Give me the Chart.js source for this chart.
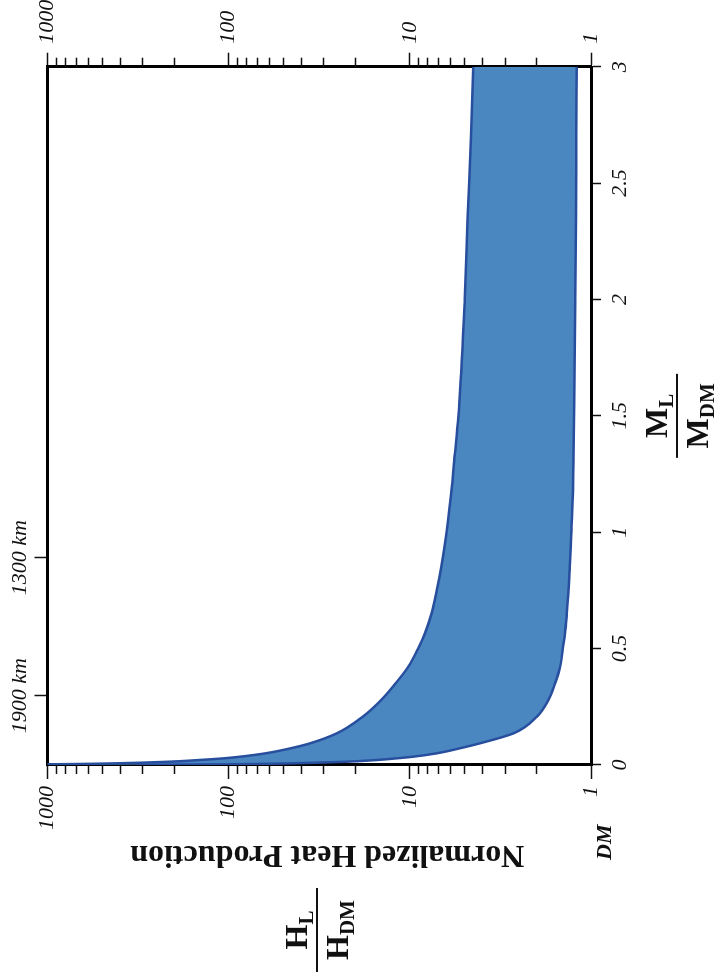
<!DOCTYPE html>
<html><head><meta charset="utf-8">
<script src="https://cdn.jsdelivr.net/npm/chart.js@4.4.1/dist/chart.umd.min.js"></script>
<style>
html,body{margin:0;padding:0;background:#fff;overflow:hidden;width:725px;height:980px;}
#wrap{position:absolute;left:0;top:0;width:980px;height:725px;transform-origin:0 0;transform:translate(0px,980px) rotate(-90deg);}
</style></head><body>
<div id="wrap"><canvas id="c" width="980" height="725"></canvas></div>
<script>
// ---- data ----
const massRatio = [0.001, 0.003, 0.007, 0.0142, 0.0215, 0.0288, 0.0357, 0.0503, 0.0717, 0.0932, 0.136, 0.2075, 0.279, 0.35, 0.422, 0.5, 0.566, 0.65, 0.75, 0.85, 0.967, 1.15, 1.31, 1.568, 2.0, 2.341, 2.7, 3.0];
const upperHeat = [3000, 1000, 430, 213, 145, 106, 86.5, 62.5, 45.5, 35.5, 25.3, 18.2, 14.4, 12.0, 10.2, 9.0, 8.25, 7.6, 7.1, 6.7, 6.35, 5.95, 5.68, 5.32, 4.98, 4.8, 4.6, 4.46];
const lowerHeat = [320, 107, 46, 22.3, 15.2, 11.8, 9.6, 7.1, 5.3, 4.1, 2.68, 1.99, 1.72, 1.58, 1.48, 1.43, 1.39, 1.36, 1.33, 1.31, 1.29, 1.26, 1.25, 1.236, 1.22, 1.21, 1.205, 1.199];
const massTicks = [0, 0.5, 1, 1.5, 2, 2.5, 3];
const heatMajorTicks = [1, 10, 100, 1000];
const heatMinorTicks = [2,3,4,5,6,7,8,9,20,30,40,50,60,70,80,90,200,300,400,500,600,700,800,900];
const kmTickValues = [0.298, 0.891];
const kmTickLabels = ['1900 km', '1300 km'];

const SERIF = "'Liberation Serif', 'DejaVu Serif', serif";
const FILL = 'rgb(74,135,192)';
const EDGE = 'rgb(40,78,158)';

const upperPts = massRatio.map((m, i) => ({x: m, y: upperHeat[i]}));
const lowerPts = massRatio.map((m, i) => ({x: m, y: lowerHeat[i]}));

const tickFont = {family: SERIF, style: 'italic', size: 22};

function drawFrac(ctx, cx, lineV, main1, sub1, main2, sub2) {
  const mainF = 'bold 32px ' + SERIF, subF = 'bold 21px ' + SERIF;
  function part(main, sub, base) {
    ctx.font = mainF; const w1 = ctx.measureText(main).width;
    ctx.font = subF; const w2 = ctx.measureText(sub).width;
    const x0 = cx - (w1 + w2) / 2;
    ctx.textAlign = 'left'; ctx.textBaseline = 'alphabetic';
    ctx.font = mainF; ctx.fillText(main, x0, base);
    ctx.font = subF; ctx.fillText(sub, x0 + w1, base + 6);
  }
  part(main1, sub1, lineV - 10);
  part(main2, sub2, lineV + 31);
  ctx.beginPath(); ctx.lineWidth = 2; ctx.strokeStyle = '#111';
  ctx.moveTo(cx - 42, lineV); ctx.lineTo(cx + 42, lineV); ctx.stroke();
}

const extras = {
  id: 'extras',
  afterDraw(chart) {
    const ctx = chart.ctx, a = chart.chartArea;
    const yL = chart.scales.y, yR = chart.scales.y2;
    ctx.save();
    ctx.strokeStyle = '#111'; ctx.lineWidth = 1.5;
    heatMinorTicks.forEach(v => {
      const p = Math.round(yL.getPixelForValue(v)) + 0.5;
      ctx.beginPath(); ctx.moveTo(a.left, p); ctx.lineTo(a.left - 9, p); ctx.stroke();
      const q = Math.round(yR.getPixelForValue(v)) + 0.5;
      ctx.beginPath(); ctx.moveTo(a.right, q); ctx.lineTo(a.right + 9, q); ctx.stroke();
    });
    ctx.fillStyle = '#111';
    // y axis title
    ctx.save();
    ctx.translate(126, (a.top + a.bottom) / 2 + 8);
    ctx.rotate(-Math.PI / 2);
    ctx.font = 'bold 32px ' + SERIF; ctx.textAlign = 'center'; ctx.textBaseline = 'middle';
    ctx.fillText('Normalized Heat Production', 0, 0);
    ctx.restore();
    // DM label
    ctx.font = 'bold italic 22px ' + SERIF; ctx.textAlign = 'left'; ctx.textBaseline = 'alphabetic';
    ctx.fillText('DM', 120, a.bottom + 20);
    // fractions
    drawFrac(ctx, 50, 317, 'H', 'L', 'H', 'DM');
    drawFrac(ctx, (a.left + a.right) / 2, 677, 'M', 'L', 'M', 'DM');
    ctx.restore();
  }
};

const axisBorder = {display: true, color: '#000', width: 3};

new Chart(document.getElementById('c'), {
  type: 'line',
  data: {
    datasets: [
      {data: lowerPts, borderColor: EDGE, borderWidth: 2.5, pointRadius: 0, fill: false, cubicInterpolationMode: 'monotone'},
      {data: upperPts, borderColor: EDGE, borderWidth: 2.5, pointRadius: 0, fill: '-1', backgroundColor: FILL, cubicInterpolationMode: 'monotone'}
    ]
  },
  options: {
    responsive: false, animation: false,
    layout: {padding: 0},
    plugins: {legend: {display: false}, tooltip: {enabled: false}},
    scales: {
      x: {
        type: 'linear', position: 'bottom', min: 0, max: 3,
        afterBuildTicks: s => { s.ticks = massTicks.map(v => ({value: v})); },
        afterFit: s => { s.height = 134; },
        ticks: {font: tickFont, color: '#111', padding: 6, maxRotation: 0, autoSkip: false, callback: v => String(v)},
        grid: {drawOnChartArea: false, tickLength: 10, tickColor: '#111', tickWidth: 1.5},
        border: axisBorder
      },
      x2: {
        type: 'linear', position: 'top', min: 0, max: 3,
        afterBuildTicks: s => { s.ticks = kmTickValues.map(v => ({value: v})); },
        afterFit: s => { s.height = 47.5; },
        ticks: {font: tickFont, color: '#111', padding: 1, maxRotation: 0, autoSkip: false,
          callback: (v, i) => kmTickLabels[i]},
        grid: {drawOnChartArea: false, tickLength: 13, tickColor: '#111', tickWidth: 1.5},
        border: axisBorder
      },
      y: {
        type: 'logarithmic', position: 'left', min: 1, max: 1000,
        afterBuildTicks: s => { s.ticks = heatMajorTicks.map(v => ({value: v})); },
        afterFit: s => { s.width = 215; },
        ticks: {font: tickFont, color: '#111', padding: 7, autoSkip: false, callback: v => String(v)},
        grid: {drawOnChartArea: false, tickLength: 14, tickColor: '#111', tickWidth: 1.5},
        border: axisBorder
      },
      y2: {
        type: 'logarithmic', position: 'right', min: 1, max: 1000,
        afterBuildTicks: s => { s.ticks = heatMajorTicks.map(v => ({value: v})); },
        afterFit: s => { s.width = 66.7; },
        ticks: {font: tickFont, color: '#111', padding: 9, autoSkip: false, callback: v => String(v)},
        grid: {drawOnChartArea: false, tickLength: 14, tickColor: '#111', tickWidth: 1.5},
        border: axisBorder
      }
    }
  },
  plugins: [extras]
});
</script>
</body></html>
